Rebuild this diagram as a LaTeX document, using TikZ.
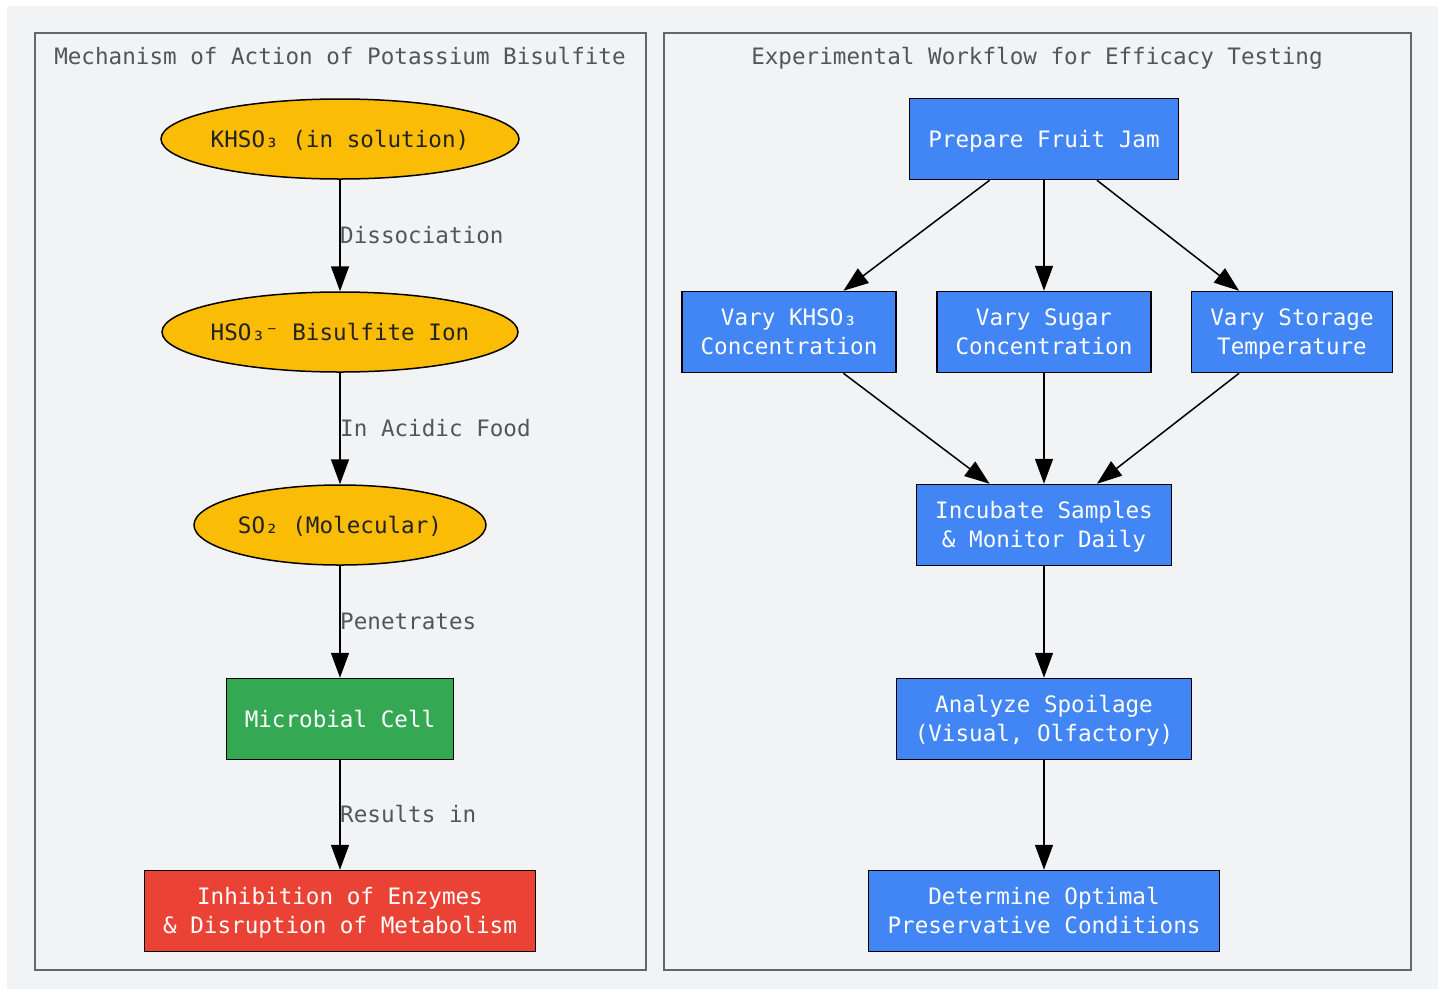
\documentclass[tikz,border=0pt]{standalone}
\usepackage{fontspec}
\setmainfont{DejaVu Sans Mono}
\usetikzlibrary{shapes.geometric,arrows.meta}
\definecolor{bggray}{HTML}{F1F3F5}
\definecolor{clgray}{HTML}{666666}
\definecolor{lbl}{HTML}{555555}
\definecolor{gyellow}{HTML}{FBBC05}
\definecolor{ggreen}{HTML}{34A853}
\definecolor{gred}{HTML}{EA4335}
\definecolor{gblue}{HTML}{4285F4}
\definecolor{dtext}{HTML}{222222}
\newcommand{\ls}{\rule[-6.5pt]{0pt}{29pt}}
\newcommand{\myfont}{\fontsize{22.6}{29}\selectfont\lineskiplimit=-20pt\relax}
\begin{document}
\begin{tikzpicture}[x=1pt,y=-1pt,
  every node/.style={font=\myfont, inner sep=0pt},
  ell/.style={ellipse, draw=black, line width=1.5pt, fill=gyellow, text=dtext, minimum height=80pt, inner xsep=-20pt, inner ysep=-8pt},
  box/.style={rectangle, draw=black, line width=1.5pt, text=white, align=center, minimum height=81pt},
  bluebox/.style={box, fill=gblue},
  cluster/.style={draw=clgray, line width=1.8pt},
  ttl/.style={text=lbl, anchor=base},
  elbl/.style={text=lbl, anchor=base west},
  arr/.style={-{Triangle[length=25pt,width=18pt]}, line width=1.5pt, black}
]
\useasboundingbox (0,0) rectangle (1442,989);
\fill[white] (0,0) rectangle (1442,989);
\fill[bggray] (7,6) rectangle (1438,989);
\draw[cluster] (35,33) rectangle (646,970);
\draw[cluster] (664,33) rectangle (1411,970);
\node[ttl] (t1) at (340,64) {Mechanism of Action of Potassium Bisulfite};
\node[ttl] (t2) at (1037,64) {Experimental Workflow for Efficacy Testing};
% left
\node[ell, minimum width=358pt] (k) at (340,139) {\ls KHSO₃ (in solution)};
\node[ell, minimum width=356pt] (h) at (340,332) {\ls HSO₃⁻ Bisulfite Ion};
\node[ell, minimum width=292pt] (s) at (340,525) {\ls SO₂ (Molecular)};
\node[box, fill=ggreen, minimum width=227pt] (m) at (340,719) {\ls Microbial Cell};
\node[box, fill=gred, minimum width=391pt] (i) at (340,911) {\ls Inhibition of Enzymes\\\ls\& Disruption of Metabolism};
\draw[arr] (k) -- (h);
\draw[arr] (h) -- (s);
\draw[arr] (s) -- (m);
\draw[arr] (m) -- (i);
\node[elbl] (l1) at (340,243) {Dissociation};
\node[elbl] (l2) at (340,436) {In Acidic Food};
\node[elbl] (l3) at (340,629) {Penetrates};
\node[elbl] (l4) at (340,822) {Results in};
% right
\node[bluebox, minimum width=269pt] (p) at (1044,139) {\ls Prepare Fruit Jam};
\node[bluebox, minimum width=214pt] (vk) at (789,332) {\ls Vary KHSO₃\\\ls Concentration};
\node[bluebox, minimum width=214pt] (vs) at (1044,332) {\ls Vary Sugar\\\ls Concentration};
\node[bluebox, minimum width=201pt] (vt) at (1292,332) {\ls Vary Storage\\\ls Temperature};
\node[bluebox, minimum width=255pt] (inc) at (1044,525) {\ls Incubate Samples\\\ls\& Monitor Daily};
\node[bluebox, minimum width=295pt] (an) at (1044,719) {\ls Analyze Spoilage\\\ls(Visual, Olfactory)};
\node[bluebox, minimum width=351pt] (d) at (1044,911) {\ls Determine Optimal\\\ls Preservative Conditions};
\draw[arr] (p) -- (vk);
\draw[arr] (p) -- (vs);
\draw[arr] (p) -- (vt);
\draw[arr] (vk) -- (inc);
\draw[arr] (vs) -- (inc);
\draw[arr] (vt) -- (inc);
\draw[arr] (inc) -- (an);
\draw[arr] (an) -- (d);
\end{tikzpicture}
\end{document}
